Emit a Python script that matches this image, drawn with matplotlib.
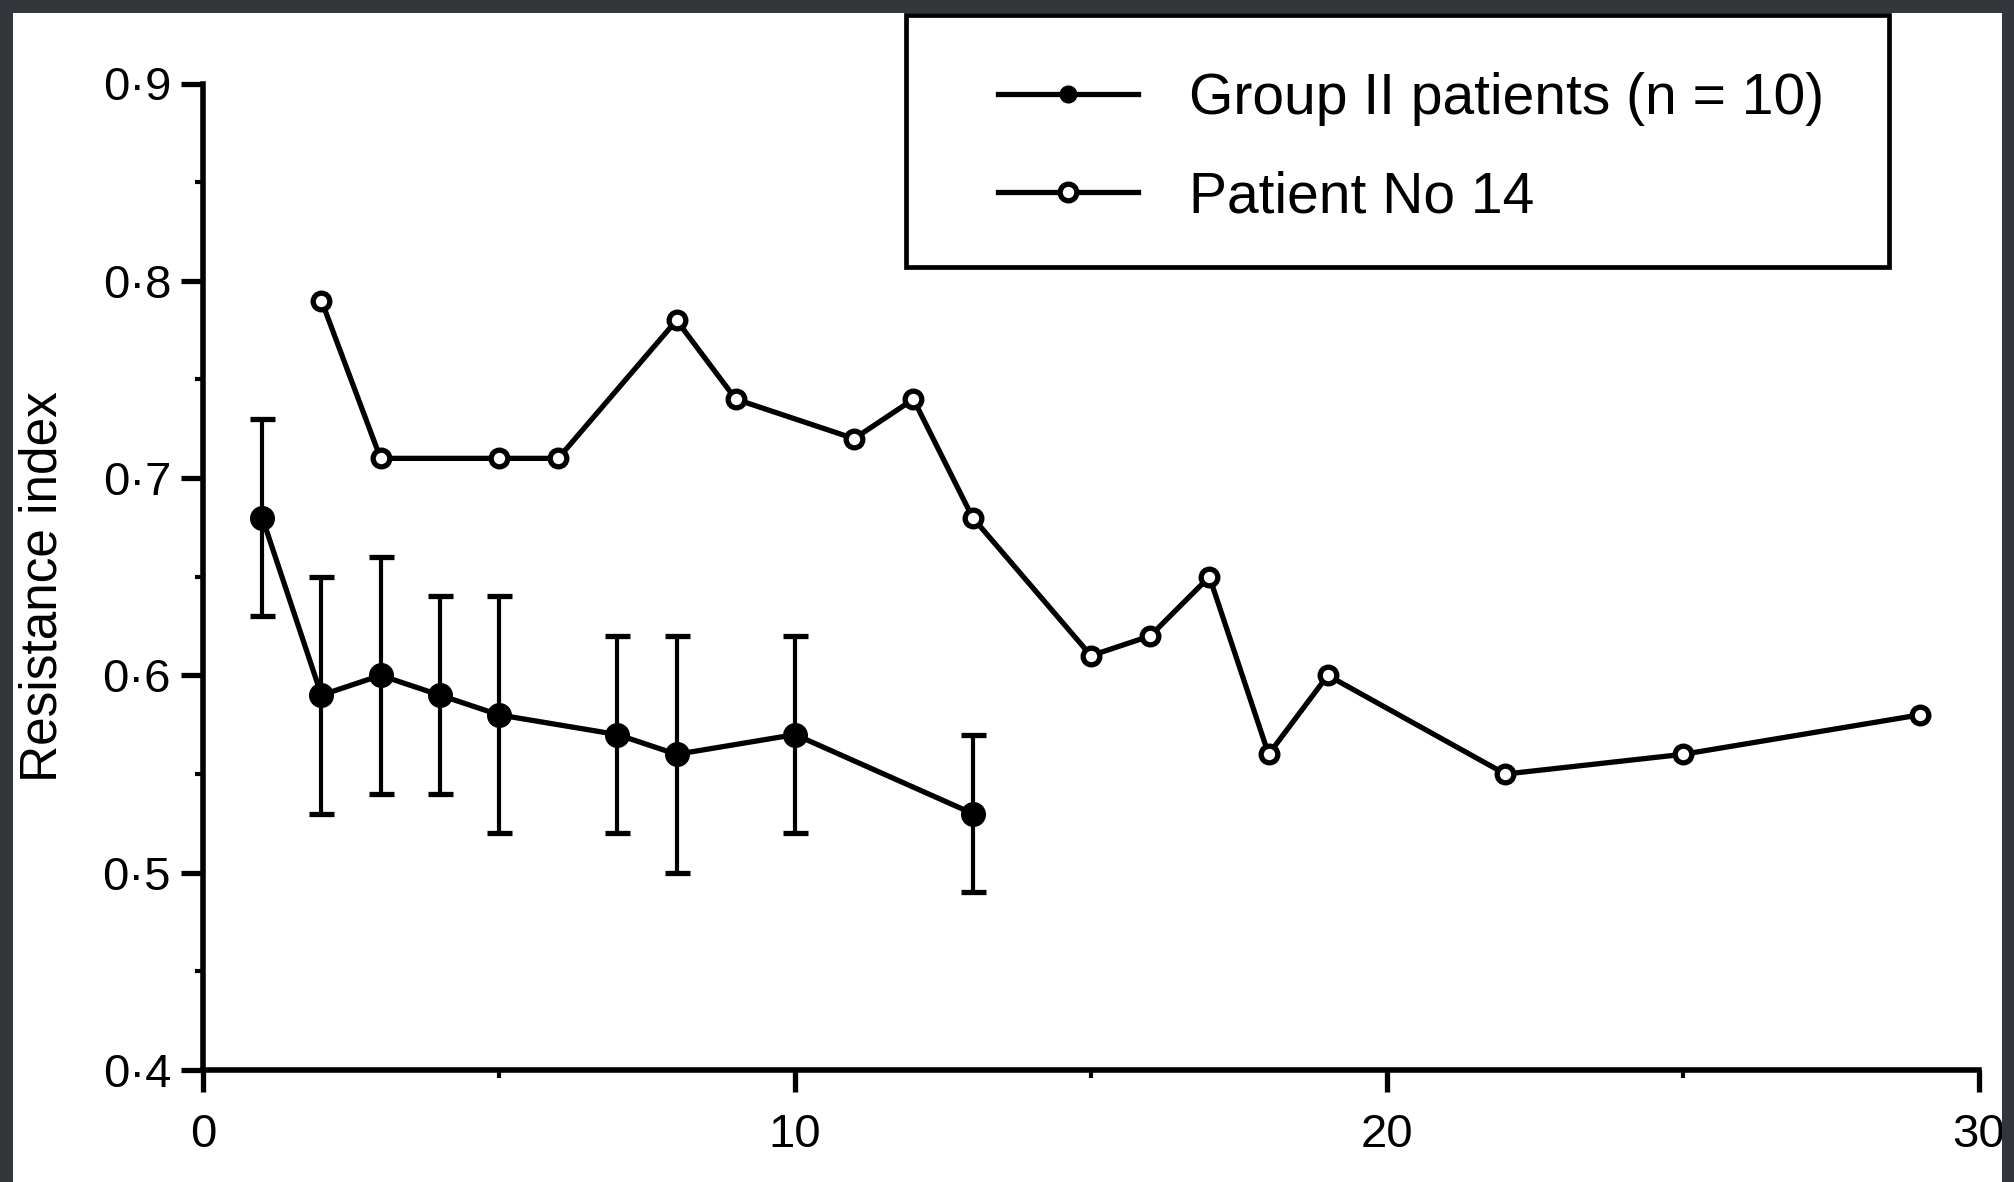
"""Resistance index over time: group II mean +/- SD vs patient No 14."""

import matplotlib
matplotlib.use("Agg")
import matplotlib.pyplot as plt
from matplotlib.patches import Rectangle
from matplotlib.ticker import FixedLocator, FuncFormatter

plt.rcParams["font.family"] = ["Liberation Sans", "DejaVu Sans"]

# Group II patients (n = 10): mean with error bars
group_x = [1, 2, 3, 4, 5, 7, 8, 10, 13]
group_y = [0.68, 0.59, 0.60, 0.59, 0.58, 0.57, 0.56, 0.57, 0.53]
group_hi = [0.73, 0.65, 0.66, 0.64, 0.64, 0.62, 0.62, 0.62, 0.57]
group_lo = [0.63, 0.53, 0.54, 0.54, 0.52, 0.52, 0.50, 0.52, 0.49]

# Patient No 14
pat_x = [2, 3, 5, 6, 8, 9, 11, 12, 13, 15, 16, 17, 18, 19, 22, 25, 29]
pat_y = [0.79, 0.71, 0.71, 0.71, 0.78, 0.74, 0.72, 0.74, 0.68, 0.61,
         0.62, 0.65, 0.56, 0.60, 0.55, 0.56, 0.58]

x_ticks = [0, 10, 20, 30]
y_ticks = [0.4, 0.5, 0.6, 0.7, 0.8, 0.9]

W, H = 2015, 1182
dpi = 100
fig = plt.figure(figsize=(W / dpi, H / dpi), dpi=dpi)
fig.patch.set_facecolor("white")
ax = fig.add_axes([203 / W, 1 - 1070 / H, (1979 - 203) / W, (1070 - 83.5) / H])

lw = 3.8
err_lo = [m - lo for m, lo in zip(group_y, group_lo)]
err_hi = [hi - m for m, hi in zip(group_y, group_hi)]
eb = ax.errorbar(group_x, group_y, yerr=[err_lo, err_hi], color="black",
                 lw=lw, elinewidth=3.0, capsize=9, capthick=3.8,
                 marker="o", markersize=17, markerfacecolor="black", zorder=3)
pat_line, = ax.plot(pat_x, pat_y, color="black", lw=lw, marker="o", markersize=12,
                    markerfacecolor="white", markeredgewidth=3.8, zorder=3)

ax.set_xlim(0, 30)
ax.set_ylim(0.4, 0.9)
for s in ["top", "right"]:
    ax.spines[s].set_visible(False)
for s in ["left", "bottom"]:
    ax.spines[s].set_linewidth(4.0)

ax.xaxis.set_major_locator(FixedLocator(x_ticks))
ax.xaxis.set_minor_locator(FixedLocator([5, 15, 25]))
ax.yaxis.set_major_locator(FixedLocator(y_ticks))
ax.yaxis.set_minor_locator(FixedLocator([0.45, 0.55, 0.65, 0.75, 0.85]))
ax.yaxis.set_major_formatter(FuncFormatter(lambda v, p: f"{v:.1f}".replace(".", "\u00b7")))
ax.tick_params(axis="both", which="major", length=16, width=3.8,
               labelsize=34, color="black")
ax.tick_params(axis="y", which="major", pad=7)
ax.tick_params(axis="x", which="major", pad=15)
ax.tick_params(axis="both", which="minor", length=6, width=3)

ax.set_ylabel("Resistance index", fontsize=37, va="center")
ax.yaxis.set_label_coords(-0.090, 0.49)

# legend without frame; the box is drawn separately below
leg = fig.legend([eb.lines[0], pat_line], ["Group II patients (n = 10)", "Patient No 14"],
                 loc="upper left", bbox_to_anchor=(998 / W, 1 - 72 / H),
                 fontsize=41, frameon=False, handlelength=2.45, handletextpad=0.9,
                 labelspacing=0.78, borderpad=0, borderaxespad=0)
for h in leg.legend_handles:
    h.set_markersize(12)
fig.add_artist(Rectangle((906 / W, 1 - 267 / H), (1889 - 906) / W, (267 - 15) / H,
                         transform=fig.transFigure, facecolor="white",
                         edgecolor="black", linewidth=3.4, zorder=1))

# dark scan border
for x0, y0, w, h in [(0, 0, 13, H), (0, 0, W, 13), (2002, 0, 13, H)]:
    fig.add_artist(Rectangle((x0 / W, 1 - (y0 + h) / H), w / W, h / H,
                             transform=fig.transFigure, facecolor="#33363a",
                             edgecolor="none", zorder=10))

fig.savefig("out.png", dpi=dpi)
